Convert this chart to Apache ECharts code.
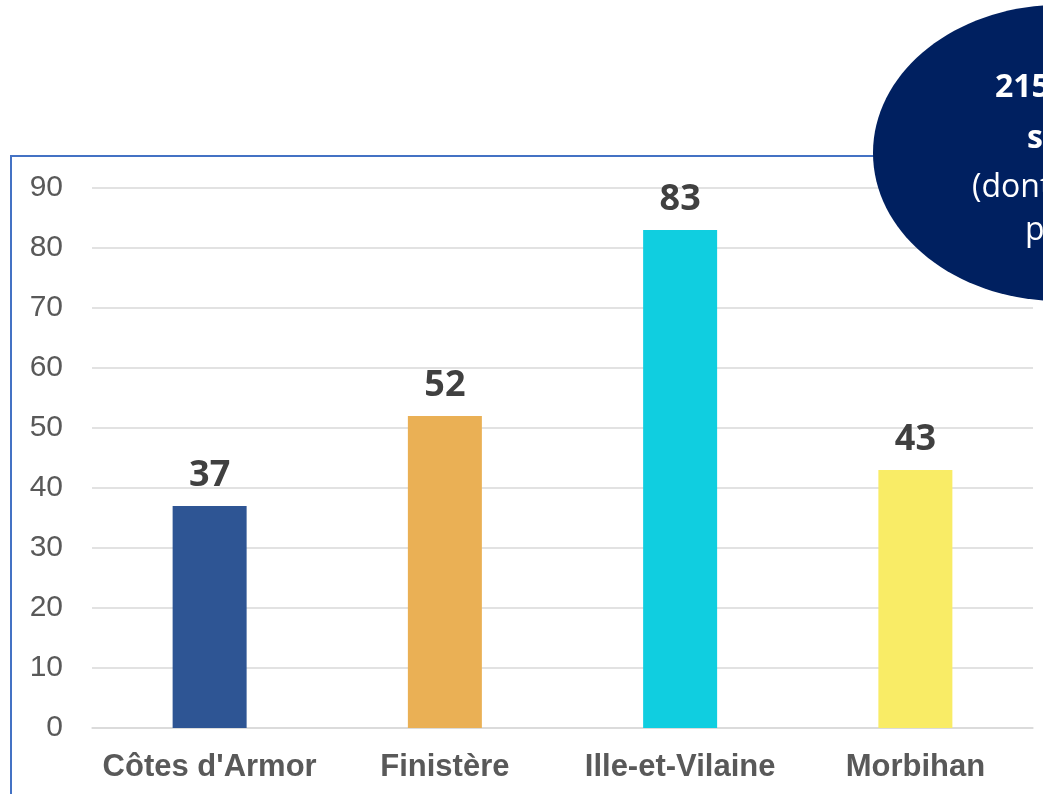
<!DOCTYPE html>
<html lang="fr">
<head>
    <meta charset="UTF-8">
    <title>Répartition par département</title>
    <script src="https://cdn.jsdelivr.net/npm/echarts@6/dist/echarts.min.js"></script>
</head>
<body style="margin:0">
    <div id="container" style="width: 1043px; height: 794px;"></div>
    <script>
        // données
        var departements = ["Côtes d'Armor", 'Finistère', 'Ille-et-Vilaine', 'Morbihan'];
        var valeurs = [37, 52, 83, 43];
        var couleurs = ['#2E5594', '#EAB055', '#10CEE0', '#F9EC66'];
        var bulleLignes = ['215 structures', 'suivies', '(dont 40 en', 'projet)'];

        var myCharts = echarts.init(document.querySelector('#container'));

        var barData = valeurs.map(function (v, i) {
            return { value: v, itemStyle: { color: couleurs[i] } };
        });

        myCharts.setOption({
            backgroundColor: '#ffffff',
            animation: false,
            grid: { left: 92, right: 10, top: 188, bottom: 66 },
            xAxis: {
                type: 'category',
                data: departements,
                axisLine: { lineStyle: { color: '#D9D9D9', width: 1.5 } },
                axisTick: { show: false },
                axisLabel: {
                    interval: 0,
                    color: '#595959',
                    fontFamily: 'Liberation Sans',
                    fontWeight: 'bold',
                    fontSize: 31,
                    margin: 24
                }
            },
            yAxis: {
                type: 'value',
                min: 0,
                max: 90,
                interval: 10,
                axisLine: { show: false },
                axisTick: { show: false },
                splitLine: { lineStyle: { color: '#D9D9D9', width: 1.5 } },
                axisLabel: {
                    color: '#595959',
                    fontFamily: 'Liberation Sans',
                    fontSize: 30,
                    margin: 29
                }
            },
            series: [{
                type: 'bar',
                data: barData,
                barWidth: 74,
                label: {
                    show: true,
                    position: 'top',
                    distance: 12,
                    color: '#404040',
                    fontFamily: 'Open Sans',
                    fontWeight: 'bold',
                    fontSize: 36
                }
            }],
            graphic: [
                {
                    type: 'rect',
                    z: 50,
                    shape: { x: 11, y: 156, width: 1200, height: 800 },
                    style: { fill: 'none', stroke: '#4472C4', lineWidth: 2 }
                },
                {
                    type: 'ellipse',
                    z: 100,
                    shape: { cx: 1060, cy: 153, rx: 187, ry: 148 },
                    style: { fill: '#002060' }
                },
                {
                    type: 'text', z: 101, x: 995, y: 88,
                    style: { text: bulleLignes[0], fill: '#fff', font: 'bold 32px "Open Sans"', textVerticalAlign: 'middle' }
                },
                {
                    type: 'text', z: 101, x: 1027, y: 139,
                    style: { text: bulleLignes[1], fill: '#fff', font: 'bold 32px "Open Sans"', textVerticalAlign: 'middle' }
                },
                {
                    type: 'text', z: 101, x: 972, y: 188,
                    style: { text: bulleLignes[2], fill: '#fff', font: '32px "Open Sans"', textVerticalAlign: 'middle' }
                },
                {
                    type: 'text', z: 101, x: 1025, y: 231,
                    style: { text: bulleLignes[3], fill: '#fff', font: '32px "Open Sans"', textVerticalAlign: 'middle' }
                }
            ]
        });
    </script>
</body>
</html>
